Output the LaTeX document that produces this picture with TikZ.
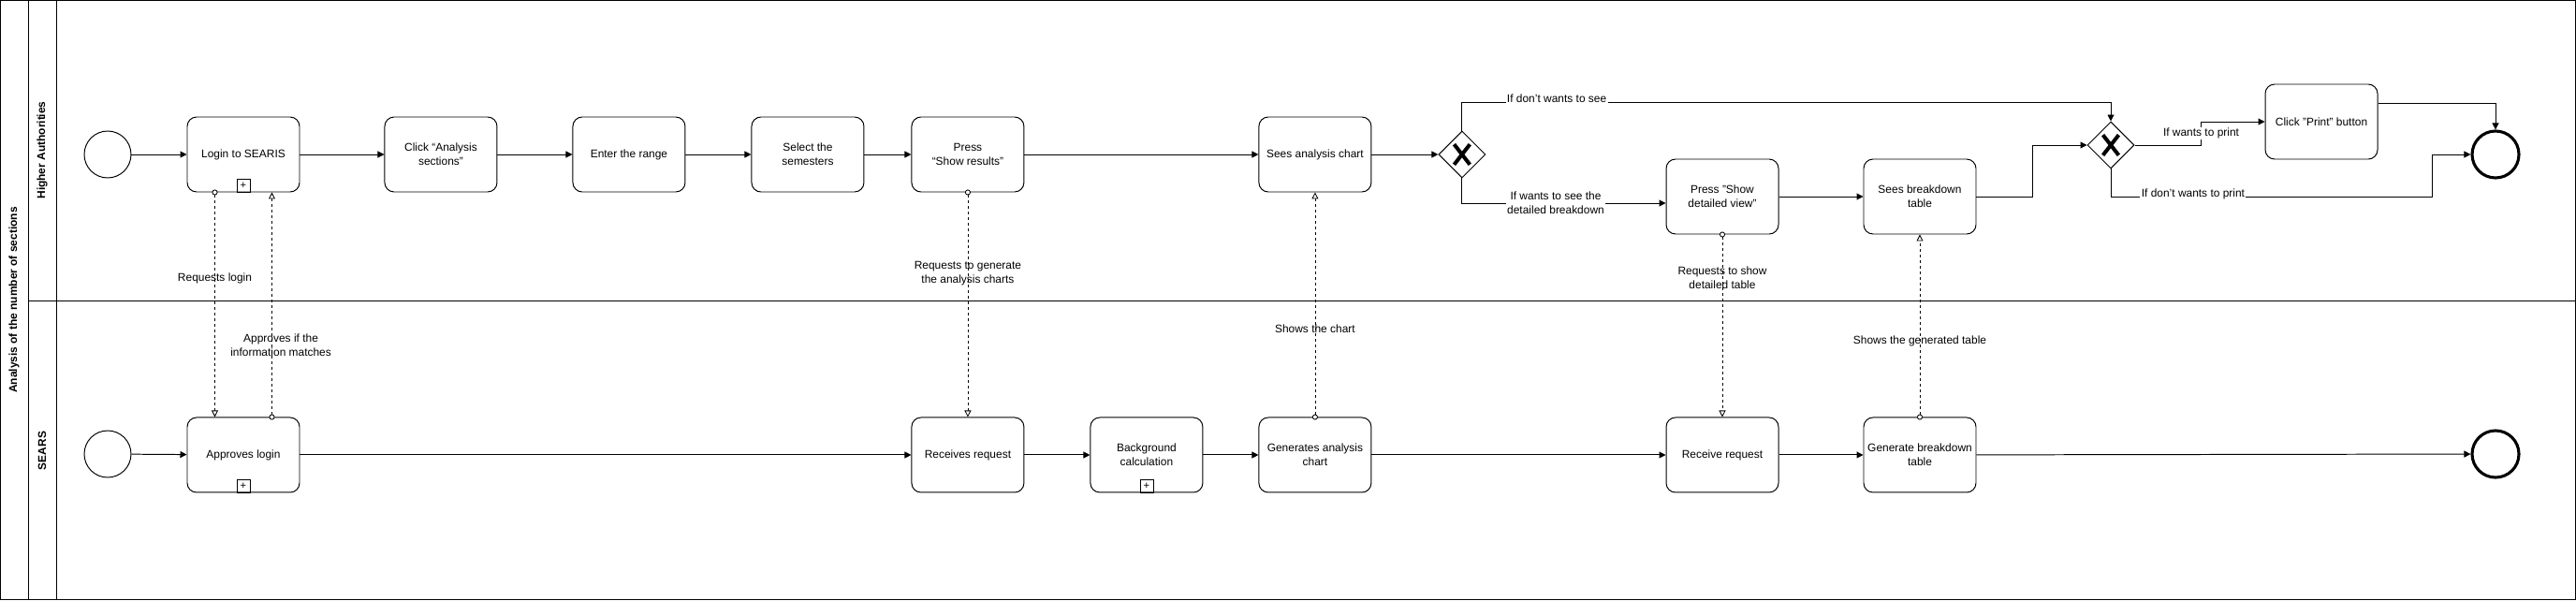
\documentclass[tikz,border=0pt]{standalone}
\usepackage{fontspec}
\setmainfont{Liberation Sans}
\usepackage{tikz}
\usetikzlibrary{positioning,shapes.geometric,arrows.meta}

\begin{document}
\begin{tikzpicture}[font=\fontsize{8.5}{10.7}\selectfont]

\tikzstyle{task}=[draw,rounded corners=0.25cm,line width=0.7pt,minimum width=3cm,minimum height=2cm,align=center,inner sep=2pt]
\tikzstyle{startev}=[draw,circle,line width=0.7pt,minimum size=1.25cm,inner sep=0pt]
\tikzstyle{endev}=[draw,circle,line width=2.2pt,minimum size=1.25cm,inner sep=0pt]
\tikzstyle{gateway}=[draw,diamond,line width=0.7pt,minimum width=1.25cm,minimum height=1.25cm,inner sep=0pt,path picture={\draw[line width=0.1cm] ([shift={(-0.21,0.27)}]path picture bounding box.center) -- ([shift={(0.21,-0.27)}]path picture bounding box.center) ([shift={(-0.21,-0.27)}]path picture bounding box.center) -- ([shift={(0.21,0.27)}]path picture bounding box.center);}]
\tikzstyle{subproc}=[draw,line width=0.6pt,minimum size=0.35cm,inner sep=0pt,anchor=south,font=\fontsize{8}{8}\selectfont]
\tikzstyle{flow}=[line width=0.7pt,-{Triangle[length=0.175cm,width=0.175cm]}]
\tikzstyle{msg}=[line width=0.6pt,dash pattern=on 0.075cm off 0.075cm,{Circle[fill=white,length=0.15cm]}-{Triangle[fill=white,length=0.175cm,width=0.175cm]}]
\tikzstyle{lbl}=[fill=white,inner sep=1pt,align=center]
\tikzstyle{mlbl}=[inner sep=1pt,align=center]
\tikzstyle{lane}=[font=\bfseries\fontsize{8.5}{10.7}\selectfont,rotate=90]

\useasboundingbox (0,0) rectangle (68.8,-16.05);

% Pool and lanes

\draw [line width=0.7pt] (0.0125,-0.0125) rectangle (68.775,-16.0125);
\draw [line width=0.7pt] (0.75,-0.0125) -- (0.75,-16.0125);
\draw [line width=0.7pt] (1.5,-0.0125) -- (1.5,-16.0125);
\draw [line width=0.7pt] (0.75,-8.025) -- (68.775,-8.025);

\node (pool) [lane] at (0.375,-8.0125) {Analysis of the number of sections};
\node (lane1) [lane] at (1.125,-4.0125) {Higher Authorities};
\node (lane2) [lane] at (1.125,-12.0375) {SEARS};

% Higher Authorities

\node (start1) [startev] at (2.875,-4.125) {};
\node (login) [task] at (6.5,-4.125) {Login to SEARIS};
\node (clickana) [task,right=2.25cm of login] {Click “Analysis\\sections”};
\node (range) [task,right=2cm of clickana] {Enter the range};
\node (semesters) [task,right=1.75cm of range] {Select the\\semesters};
\node (showres) [task,right=1.25cm of semesters] {Press\\“Show results”};
\node (seechart) [task,right=6.25cm of showres] {Sees analysis chart};
\node (gw1) [gateway,right=1.775cm of seechart] {};
\node (detview) [task] at (46,-5.25) {Press "Show\\detailed view"};
\node (seetable) [task,right=2.25cm of detview] {Sees breakdown\\table};
\node (gw2) [gateway] at (56.375,-3.875) {};
\node (print) [task] at (62,-3.25) {Click "Print" button};
\node (end1) [endev] at (66.65,-4.125) {};

% SEARS

\node (start2) [startev] at (2.875,-12.125) {};
\node (approve) [task,below=6cm of login] {Approves login};
\node (recv1) [task,below=6cm of showres] {Receives request};
\node (bgcalc) [task,right=1.75cm of recv1] {Background\\calculation};
\node (genchart) [task,below=6cm of seechart] {Generates analysis\\chart};
\node (recv2) [task,below=4.875cm of detview] {Receive request};
\node (gentable) [task,below=4.875cm of seetable] {Generate breakdown\\table};
\node (end2) [endev] at (66.65,-12.125) {};

\node (loginplus) [subproc] at (login.south) {+};
\node (approveplus) [subproc] at (approve.south) {+};
\node (bgcalcplus) [subproc] at (bgcalc.south) {+};

% Sequence flows

\draw [flow] (start1) -- (login);
\draw [flow] (login) -- (clickana);
\draw [flow] (clickana) -- (range);
\draw [flow] (range) -- (semesters);
\draw [flow] (semesters) -- (showres);
\draw [flow] (showres) -- (seechart);
\draw [flow] (seechart) -- (gw1);
\draw [flow] (gw1.north) |- node[lbl,pos=0.573,anchor=base] (ifnotsee) {If don't wants to see} ([yshift=0.5cm]gw2.north) -- (gw2.north);
\draw [flow] (gw1.south) |- node[lbl,pos=0.73] (ifsee) {If wants to see the\\detailed breakdown} ([yshift=-0.175cm]detview.west);
\draw [flow] (detview) -- (seetable);
\draw [flow] (seetable.east) -- ++(1.5,0) |- (gw2.west);
\draw [flow] (gw2.east) -- ++(1.775,0) |- node[lbl,pos=0.25] (ifprint) {If wants to print} (print.west);
\draw [flow] ([yshift=0.5cm]print.east) -| (end1.north);
\draw [flow] (gw2.south) |- node[lbl,pos=0.628,anchor=base] (ifnotprint) {If don't wants to print} ([xshift=-1.025cm,yshift=-1.125cm]end1.west) -- ([xshift=-1.025cm]end1.west) -- (end1.west);

\draw [flow] (start2) -- (approve);
\draw [flow] (approve) -- (recv1);
\draw [flow] (recv1) -- (bgcalc);
\draw [flow] (bgcalc) -- (genchart);
\draw [flow] (genchart) -- (recv2);
\draw [flow] (recv2) -- (gentable);
\draw [flow] (gentable) -- (end2);

% Message flows

\draw [msg] ([xshift=0.75cm,yshift=0.075cm]login.south west) -- node[mlbl,pos=0.39] (reqlogin) {Requests login} ([xshift=0.75cm]approve.north west);
\draw [msg] ([xshift=-0.75cm,yshift=-0.075cm]approve.north east) -- node[mlbl,pos=0.33,xshift=0.24cm] (approvesif) {Approves if the\\information matches} ([xshift=-0.75cm]login.south east);
\draw [msg] ([yshift=0.075cm]showres.south) -- node[mlbl,pos=0.37] (reqcharts) {Requests to generate\\the analysis charts} (recv1.north);
\draw [msg] ([yshift=-0.075cm]genchart.north) -- node[mlbl,pos=0.4] (showschart) {Shows the chart} (seechart.south);
\draw [msg] ([yshift=0.075cm]detview.south) -- node[mlbl,pos=0.25] (reqtable) {Requests to show\\detailed table} (recv2.north);
\draw [msg] ([yshift=-0.075cm]gentable.north) -- node[mlbl,pos=0.426] (showstable) {Shows the generated table} (seetable.south);

\end{tikzpicture}
\end{document}
